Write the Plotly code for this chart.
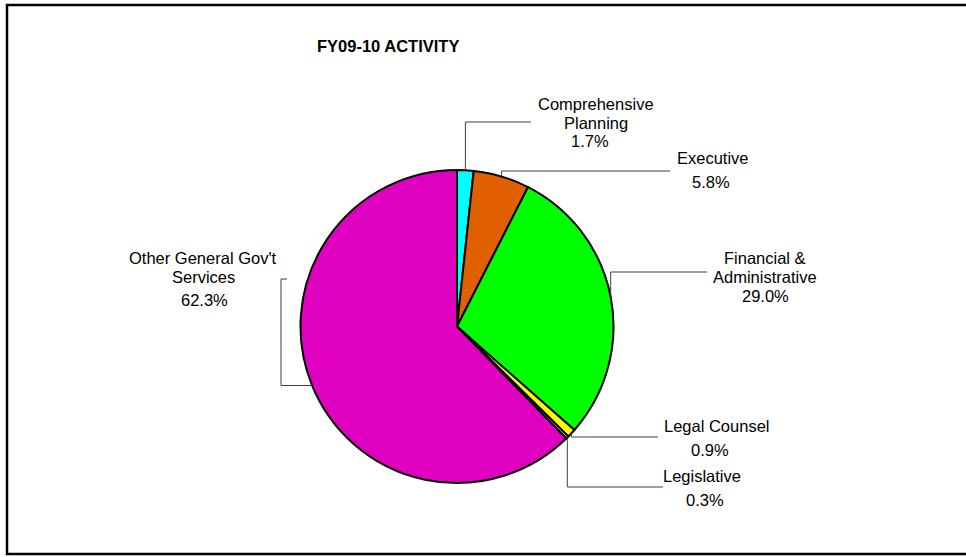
import math
import plotly.graph_objects as go

# Activity shares (percent of total), clockwise from 12 o'clock
categories = ["Comprehensive Planning", "Executive", "Financial & Administrative",
              "Legal Counsel", "Legislative", "Other General Gov't Services"]
shares = [1.7, 5.8, 29.0, 0.9, 0.3, 62.3]
name_lines = [["Comprehensive", "Planning"], ["Executive"], ["Financial &", "Administrative"],
              ["Legal Counsel"], ["Legislative"], ["Other General Gov't", "Services"]]
colors = ["#00FFFF", "#E06000", "#00FF00", "#FFFF00", "#FFFF80", "#E000C0"]
title_text = "FY09-10 ACTIVITY"

# Canvas and pie geometry in pixels
W, H = 966, 557
CX, CY, R = 457, 326.5, 156.5
FONT = "Liberation Sans, Arial, sans-serif"
FS = 16.5
LEADER = "#404040"

# Label placement: (name centre x, name first-line y, pct centre x, pct y)
label_pos = [
    (596, 104, 590, 141),
    (713, 158, 711, 182),
    (765, 258, 765, 296),
    (717, 426, 710, 450),
    (702, 476, 705, 500),
    (203, 258, 204, 300),
]
LINE_GAP = 18.5

# Leader routes from the slice edge: ("v", elbow_y, end_x) goes vertical then horizontal,
# ("h", x, top_y, tick_x) goes horizontal, up, then a short tick.
leader_routes = [
    ("v", 122, 531),
    ("v", 171, 670),
    ("v", 272, 707),
    ("v", 437, 658),
    ("v", 487, 663),
    ("h", 281, 279, 287),
]

fig = go.Figure()

fig.add_trace(go.Pie(
    labels=categories, values=shares, sort=False, direction="clockwise", rotation=0,
    marker=dict(colors=colors, line=dict(color="black", width=2)),
    textinfo="none", hoverinfo="label+percent", showlegend=False,
    domain=dict(x=[(CX - R) / W, (CX + R) / W], y=[1 - (CY + R) / H, 1 - (CY - R) / H]),
))

# invisible pixel-space axes for leaders and text
fig.add_trace(go.Scatter(x=[0, W], y=[0, H], mode="markers", marker=dict(opacity=0),
                         hoverinfo="skip", showlegend=False))

shapes = []
annotations = []
total = sum(shares)
cum = 0.0
for i, v in enumerate(shares):
    mid = (cum + v / 2) / total * 2 * math.pi
    cum += v
    ax, ay = CX + R * math.sin(mid), CY - R * math.cos(mid)
    route = leader_routes[i]
    if route[0] == "v":
        pts = [(ax, ay), (ax, route[1]), (route[2], route[1])]
    else:
        pts = [(ax, ay), (route[1], ay), (route[1], route[2]), (route[3], route[2])]
    path = "M " + " L ".join(f"{x:.1f},{y:.1f}" for x, y in pts)
    shapes.append(dict(type="path", path=path, xref="x", yref="y",
                       line=dict(color=LEADER, width=1)))

    nx, ny, px, py = label_pos[i]
    for k, line in enumerate(name_lines[i]):
        annotations.append(dict(x=nx, y=ny + k * LINE_GAP, xref="x", yref="y", text=line,
                                showarrow=False, xanchor="center", yanchor="middle",
                                font=dict(family=FONT, size=FS, color="black")))
    annotations.append(dict(x=px, y=py, xref="x", yref="y", text=f"{v:.1f}%",
                            showarrow=False, xanchor="center", yanchor="middle",
                            font=dict(family=FONT, size=FS, color="black")))

annotations.append(dict(x=388, y=46, xref="x", yref="y", text=f"<b>{title_text}</b>",
                        showarrow=False, xanchor="center", yanchor="middle",
                        font=dict(family=FONT, size=16.5, color="black")))

# chart frame
shapes.append(dict(type="rect", xref="x", yref="y", x0=7, y0=5, x1=975, y1=554,
                   line=dict(color="black", width=2.5), fillcolor="rgba(0,0,0,0)"))

fig.update_layout(
    width=W, height=H, margin=dict(l=0, r=0, t=0, b=0),
    paper_bgcolor="white", plot_bgcolor="white",
    xaxis=dict(range=[0, W], visible=False, fixedrange=True, domain=[0, 1]),
    yaxis=dict(range=[H, 0], visible=False, fixedrange=True, domain=[0, 1]),
    shapes=shapes, annotations=annotations,
)

fig.write_html("out.html")
